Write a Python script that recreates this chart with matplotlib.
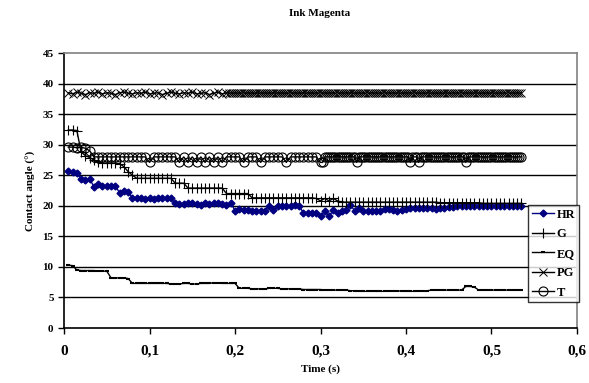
import matplotlib
matplotlib.use("Agg")
import matplotlib.pyplot as plt

plt.rcParams['font.family'] = ['Liberation Serif', 'DejaVu Serif']
plt.rcParams['font.weight'] = 'bold'

# sampling times (s), 5 ms grid
time = [0.005, 0.010, 0.015, 0.020, 0.025, 0.030, 0.035, 0.040, 0.045, 0.050,
        0.055, 0.060, 0.065, 0.070, 0.075, 0.080, 0.085, 0.090, 0.095, 0.100,
        0.105, 0.110, 0.115, 0.120, 0.125, 0.130, 0.135, 0.140, 0.145, 0.150,
        0.155, 0.160, 0.165, 0.170, 0.175, 0.180, 0.185, 0.190, 0.195, 0.200,
        0.205, 0.210, 0.215, 0.220, 0.225, 0.230, 0.235, 0.240, 0.245, 0.250,
        0.255, 0.260, 0.265, 0.270, 0.275, 0.280, 0.285, 0.290, 0.295, 0.300,
        0.305, 0.310, 0.315, 0.320, 0.325, 0.330, 0.335, 0.340, 0.345, 0.350,
        0.355, 0.360, 0.365, 0.370, 0.375, 0.380, 0.385, 0.390, 0.395, 0.400,
        0.405, 0.410, 0.415, 0.420, 0.425, 0.430, 0.435, 0.440, 0.445, 0.450,
        0.455, 0.460, 0.465, 0.470, 0.475, 0.480, 0.485, 0.490, 0.495, 0.500,
        0.505, 0.510, 0.515, 0.520, 0.525, 0.530, 0.535]

# finer sampling used later in the PG and T runs
time_fine = [0.1925, 0.1950, 0.1975, 0.2000, 0.2025, 0.2050, 0.2075, 0.2100,
             0.2125, 0.2150, 0.2175, 0.2200, 0.2225, 0.2250, 0.2275, 0.2300,
             0.2325, 0.2350, 0.2375, 0.2400, 0.2425, 0.2450, 0.2475, 0.2500,
             0.2525, 0.2550, 0.2575, 0.2600, 0.2625, 0.2650, 0.2675, 0.2700,
             0.2725, 0.2750, 0.2775, 0.2800, 0.2825, 0.2850, 0.2875, 0.2900,
             0.2925, 0.2950, 0.2975, 0.3000, 0.3025, 0.3050, 0.3075, 0.3100,
             0.3125, 0.3150, 0.3175, 0.3200, 0.3225, 0.3250, 0.3275, 0.3300,
             0.3325, 0.3350, 0.3375, 0.3400, 0.3425, 0.3450, 0.3475, 0.3500,
             0.3525, 0.3550, 0.3575, 0.3600, 0.3625, 0.3650, 0.3675, 0.3700,
             0.3725, 0.3750, 0.3775, 0.3800, 0.3825, 0.3850, 0.3875, 0.3900,
             0.3925, 0.3950, 0.3975, 0.4000, 0.4025, 0.4050, 0.4075, 0.4100,
             0.4125, 0.4150, 0.4175, 0.4200, 0.4225, 0.4250, 0.4275, 0.4300,
             0.4325, 0.4350, 0.4375, 0.4400, 0.4425, 0.4450, 0.4475, 0.4500,
             0.4525, 0.4550, 0.4575, 0.4600, 0.4625, 0.4650, 0.4675, 0.4700,
             0.4725, 0.4750, 0.4775, 0.4800, 0.4825, 0.4850, 0.4875, 0.4900,
             0.4925, 0.4950, 0.4975, 0.5000, 0.5025, 0.5050, 0.5075, 0.5100,
             0.5125, 0.5150, 0.5175, 0.5200, 0.5225, 0.5250, 0.5275, 0.5300,
             0.5325, 0.5350]

hr = [25.7, 25.5, 25.4, 24.4, 24.2, 24.4, 23.1, 23.6, 23.3, 23.3,
      23.3, 23.3, 22.1, 22.4, 22.3, 21.3, 21.3, 21.3, 21.1, 21.3,
      21.1, 21.3, 21.3, 21.3, 21.3, 20.4, 20.3, 20.3, 20.4, 20.4,
      20.3, 20.1, 20.4, 20.3, 20.4, 20.4, 20.3, 20.2, 20.5, 19.2,
      19.5, 19.3, 19.3, 19.2, 19.2, 19.2, 19.2, 20.0, 19.3, 19.9,
      19.9, 19.9, 19.9, 20.1, 19.9, 18.9, 18.9, 18.9, 18.9, 18.3,
      19.1, 18.3, 19.3, 18.8, 19.1, 19.3, 20.1, 19.2, 19.6, 19.2,
      19.2, 19.2, 19.2, 19.2, 19.4, 19.4, 19.3, 19.2, 19.3, 19.4,
      19.6, 19.6, 19.6, 19.6, 19.6, 19.6, 19.4, 19.6, 19.7, 19.8,
      19.8, 19.9, 19.9, 19.9, 19.9, 20.0, 20.0, 20.0, 20.0, 20.0,
      20.0, 20.0, 20.0, 20.0, 20.0, 20.0, 20.0]

g = [32.4, 32.4, 32.3, 28.8, 28.2, 27.9, 27.5, 27.2, 27.0, 27.0,
     27.0, 27.0, 26.9, 26.4, 25.6, 25.0, 24.5, 24.5, 24.5, 24.5,
     24.5, 24.5, 24.5, 24.5, 24.5, 23.7, 23.7, 23.7, 22.9, 22.9,
     22.9, 22.9, 22.9, 22.9, 22.9, 22.9, 22.9, 22.0, 22.0, 22.0,
     22.0, 22.0, 22.0, 21.3, 21.3, 21.3, 21.3, 21.3, 21.3, 21.3,
     21.3, 21.3, 21.3, 21.3, 21.3, 21.3, 21.3, 21.3, 21.2, 20.8,
     21.2, 20.8, 21.2, 20.8, 20.6, 20.6, 20.6, 20.6, 20.6, 20.6,
     20.6, 20.6, 20.6, 20.6, 20.6, 20.6, 20.6, 20.6, 20.6, 20.6,
     20.6, 20.6, 20.6, 20.6, 20.6, 20.6, 20.6, 20.5, 20.5, 20.5,
     20.5, 20.5, 20.5, 20.5, 20.5, 20.5, 20.5, 20.4, 20.4, 20.4,
     20.4, 20.4, 20.4, 20.4, 20.4, 20.4, 20.4]

eq = [10.3, 10.2, 9.5, 9.4, 9.4, 9.4, 9.4, 9.3, 9.3, 9.3,
      8.2, 8.2, 8.2, 8.2, 8.1, 7.3, 7.3, 7.3, 7.3, 7.3,
      7.3, 7.3, 7.3, 7.3, 7.2, 7.2, 7.2, 7.3, 7.3, 7.2,
      7.2, 7.3, 7.3, 7.3, 7.4, 7.4, 7.3, 7.3, 7.3, 7.3,
      6.5, 6.5, 6.5, 6.4, 6.4, 6.4, 6.4, 6.5, 6.5, 6.5,
      6.4, 6.4, 6.4, 6.4, 6.4, 6.3, 6.3, 6.3, 6.3, 6.3,
      6.2, 6.2, 6.2, 6.2, 6.2, 6.2, 6.1, 6.1, 6.0, 6.0,
      6.0, 6.0, 6.0, 6.0, 6.0, 6.1, 6.1, 6.1, 6.0, 6.0,
      6.0, 6.0, 6.1, 6.1, 6.1, 6.2, 6.2, 6.2, 6.2, 6.2,
      6.2, 6.2, 6.2, 6.8, 6.8, 6.7, 6.2, 6.2, 6.2, 6.2,
      6.2, 6.2, 6.2, 6.2, 6.2, 6.2, 6.2]

# PG: 5 ms grid up to 0.19 s, then the fine grid
pg_early = [38.5, 38.3, 38.6, 38.4, 38.2, 38.5, 38.4, 38.6, 38.3, 38.5,
            38.4, 38.2, 38.5, 38.6, 38.4, 38.3, 38.5, 38.4, 38.6, 38.3,
            38.4, 38.5, 38.2, 38.4, 38.6, 38.4, 38.3, 38.5, 38.4, 38.6,
            38.3, 38.4, 38.5, 38.2, 38.4, 38.6, 38.3, 38.5]
pg_late = [38.4, 38.5, 38.4, 38.5, 38.4, 38.5, 38.4, 38.5, 38.4, 38.5,
           38.4, 38.5, 38.4, 38.5, 38.4, 38.5, 38.4, 38.5, 38.4, 38.5,
           38.4, 38.5, 38.4, 38.5, 38.4, 38.5, 38.4, 38.5, 38.4, 38.5,
           38.4, 38.5, 38.4, 38.5, 38.4, 38.5, 38.4, 38.5, 38.4, 38.5,
           38.4, 38.5, 38.4, 38.5, 38.4, 38.5, 38.4, 38.5, 38.4, 38.5,
           38.4, 38.5, 38.4, 38.5, 38.4, 38.5, 38.4, 38.5, 38.4, 38.5,
           38.4, 38.5, 38.4, 38.5, 38.4, 38.5, 38.4, 38.5, 38.4, 38.5,
           38.4, 38.5, 38.4, 38.5, 38.4, 38.5, 38.4, 38.5, 38.4, 38.5,
           38.4, 38.5, 38.4, 38.5, 38.4, 38.5, 38.4, 38.5, 38.4, 38.5,
           38.4, 38.5, 38.4, 38.5, 38.4, 38.5, 38.4, 38.5, 38.4, 38.5,
           38.4, 38.5, 38.4, 38.5, 38.4, 38.5, 38.4, 38.5, 38.4, 38.5,
           38.4, 38.5, 38.4, 38.5, 38.4, 38.5, 38.4, 38.5, 38.4, 38.5,
           38.4, 38.5, 38.4, 38.5, 38.4, 38.5, 38.4, 38.5, 38.4, 38.5,
           38.4, 38.5, 38.4, 38.5, 38.4, 38.5, 38.4, 38.5]

# T: 5 ms grid up to 0.30 s, then the fine grid
t_early = [29.6, 29.6, 29.5, 29.6, 29.4, 29.0, 28.0, 28.0, 28.0, 28.0,
           28.0, 28.0, 28.0, 28.0, 28.0, 28.0, 28.0, 28.0, 28.0, 27.1,
           28.0, 28.0, 28.0, 28.0, 28.0, 28.0, 27.1, 28.0, 27.1, 28.0,
           27.1, 28.0, 27.1, 28.0, 27.1, 28.0, 27.1, 28.0, 28.0, 28.0,
           28.0, 27.1, 28.0, 28.0, 28.0, 27.1, 28.0, 28.0, 28.0, 28.0,
           28.0, 27.1, 28.0, 28.0, 28.0, 28.0, 28.0, 28.0, 28.0, 27.1]
t_late = [27.1, 28.0, 28.0, 28.0, 28.0, 28.0, 28.0, 28.0, 28.0, 28.0,
          28.0, 28.0, 28.0, 28.0, 28.0, 28.0, 27.1, 28.0, 28.0, 28.0,
          28.0, 28.0, 28.0, 28.0, 28.0, 28.0, 28.0, 28.0, 28.0, 28.0,
          28.0, 28.0, 28.0, 28.0, 28.0, 28.0, 28.0, 28.0, 28.0, 28.0,
          28.0, 27.1, 28.0, 28.0, 28.0, 27.1, 28.0, 28.0, 28.0, 28.0,
          28.0, 28.0, 28.0, 28.0, 28.0, 28.0, 28.0, 28.0, 28.0, 28.0,
          28.0, 28.0, 28.0, 28.0, 28.0, 28.0, 28.0, 27.1, 28.0, 28.0,
          28.0, 28.0, 28.0, 28.0, 28.0, 28.0, 28.0, 28.0, 28.0, 28.0,
          28.0, 28.0, 28.0, 28.0, 28.0, 28.0, 28.0, 28.0, 28.0, 28.0,
          28.0, 28.0, 28.0, 28.0]

xticks = [0, 0.1, 0.2, 0.3, 0.4, 0.5, 0.6]
xticklabels = ['0', '0,1', '0,2', '0,3', '0,4', '0,5', '0,6']
yticks = [0, 5, 10, 15, 20, 25, 30, 35, 40, 45]

pg_time = time[:38] + time_fine
pg = pg_early + pg_late
t_time = time[:60] + time_fine[44:]
t_ink = t_early + t_late

fig = plt.figure(figsize=(5.89, 3.83), dpi=100)
ax = fig.add_axes([0.1087, 0.1436, 0.8709, 0.718])

for y in yticks[1:-1]:
    ax.axhline(y, color='black', lw=1, zorder=0)

ax.plot(time, hr, color='#000080', lw=1, marker='D', ms=3.5, label='HR')
ax.plot(time, g, color='black', lw=1, marker='+', ms=7, mew=0.8, label='G')
ax.plot(time, eq, color='black', lw=1, marker='_', ms=3, mew=1.5, label='EQ')
ax.plot(pg_time, pg, color='black', lw=1, marker='x', ms=6, mew=0.7, label='PG')
ax.plot(t_time, t_ink, color='black', lw=1, marker='o', ms=6.5, mfc='none', mew=0.8, label='T')

ax.set_xlim(0, 0.6)
ax.set_ylim(0, 45)
ax.set_xticks(xticks)
ax.set_xticklabels(xticklabels, fontsize=11)
ax.set_yticks(yticks)
ax.set_yticklabels([str(v) for v in yticks], fontsize=8)
ax.tick_params(direction='out', length=4, width=1, color='black')
ax.tick_params(axis='x', pad=8)
ax.spines['top'].set_color('#808080')
ax.spines['right'].set_color('#808080')
for s in ax.spines.values():
    s.set_linewidth(1.2)

ax.set_xlabel('Time (s)', fontsize=8, fontweight='bold', labelpad=5)
ax.set_ylabel('Contact angle (°)', fontsize=8, fontweight='bold', labelpad=5)
fig.text(0.543, 0.965, 'Ink Magenta', fontsize=8, fontweight='bold', ha='center', va='center')

leg = ax.legend(loc='upper left', bbox_to_anchor=(0.8964, 0.4648), bbox_transform=fig.transFigure,
                fontsize=9, frameon=True, fancybox=False, edgecolor='black', handlelength=1.8,
                handletextpad=0.2, borderpad=0.3, labelspacing=0.6, borderaxespad=0)
leg.get_frame().set_linewidth(1)
leg.set_zorder(5)

fig.savefig('out.png', dpi=100)
